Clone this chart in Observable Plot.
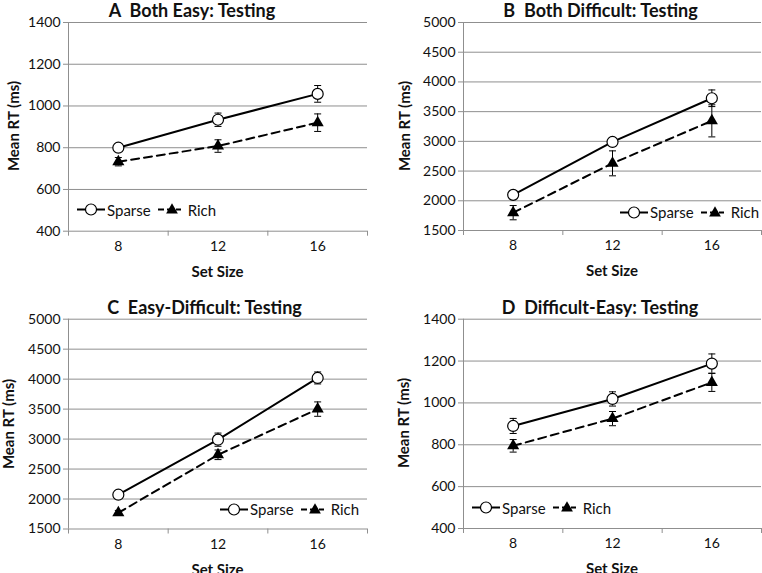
<!DOCTYPE html>
<html><head><meta charset="utf-8">
<script src="https://cdn.jsdelivr.net/npm/d3@7"></script>
<script src="https://cdn.jsdelivr.net/npm/@observablehq/plot@0.6"></script>
<style>
body{margin:0;background:#fff;}
#root{position:relative;width:762px;height:573px;overflow:hidden;font-family:Lato,sans-serif;color:#111;}
.t{position:absolute;white-space:pre;transform:translate(-50%,-50%);line-height:1;}
.title{font-weight:bold;font-size:18px;}
.axt{font-weight:bold;font-size:15px;}
.rot{transform:translate(-50%,-50%) rotate(-90deg);}
.leg{position:absolute;display:flex;align-items:center;font-size:15px;white-space:nowrap;transform:translateY(-50%);line-height:1;}
.leg svg{display:block;}
</style></head><body><div id="root"></div>
<script>
// ---- data ----
const setSizes = [8, 12, 16];
const seriesNames = ["Sparse", "Rich"];
const panelTitles = ["A  Both Easy: Testing", "B  Both Difficult: Testing", "C  Easy-Difficult: Testing", "D  Difficult-Easy: Testing"];
const xLabel = "Set Size";
const yLabel = "Mean RT (ms)";
const yTicksEasy = [400, 600, 800, 1000, 1200, 1400];
const yTicksDiff = [1500, 2000, 2500, 3000, 3500, 4000, 4500, 5000];
const xBoundaries = [6, 10, 14, 18];

const sparseA = [800, 934, 1058];  const sparseErrA = [12, 32, 40];
const richA   = [733, 808, 920];   const richErrA   = [20, 30, 42];
const sparseB = [2100, 2990, 3725]; const sparseErrB = [40, 70, 140];
const richB   = [1800, 2630, 3345]; const richErrB   = [120, 210, 270];
const sparseC = [2072, 2990, 4020]; const sparseErrC = [30, 110, 100];
const richC   = [1770, 2738, 3500]; const richErrC   = [40, 80, 120];
const sparseD = [890, 1019, 1188];  const sparseErrD = [36, 34, 46];
const richD   = [795, 925, 1098];   const richErrD   = [30, 34, 43];

// ---- layout ----
const panels = [
  {title: panelTitles[0], sparse: sparseA, sErr: sparseErrA, rich: richA, rErr: richErrA, ticks: yTicksEasy,
   left: 0, top: 0, width: 381, height: 283, mL: 68, mR: 14, mT: 22, mB: 52.3,
   titleX: 192, titleY: 9.5, yLabX: 13, legX: 77, legY: 209.5},
  {title: panelTitles[1], sparse: sparseB, sErr: sparseErrB, rich: richB, rErr: richErrB, ticks: yTicksDiff,
   left: 381, top: 0, width: 381, height: 283, mL: 82, mR: 1, mT: 22, mB: 53,
   titleX: 600.5, titleY: 9.5, yLabX: 404, legX: 620, legY: 212},
  {title: panelTitles[2], sparse: sparseC, sErr: sparseErrC, rich: richC, rErr: richErrC, ticks: yTicksDiff,
   left: 0, top: 283, width: 381, height: 290, mL: 68, mR: 14, mT: 35.7, mB: 44.5,
   titleX: 204.5, titleY: 306.5, yLabX: 8, legX: 220, legY: 509},
  {title: panelTitles[3], sparse: sparseD, sErr: sparseErrD, rich: richD, rErr: richErrD, ticks: yTicksEasy,
   left: 381, top: 283, width: 381, height: 290, mL: 82, mR: 1, mT: 35.7, mB: 45,
   titleX: 600, titleY: 306.5, yLabX: 403, legX: 472, legY: 507.5}
];

const root = document.getElementById("root");
const cap = {draw(ctx) { ctx.moveTo(-3.5, 0); ctx.lineTo(3.5, 0); }};
const grid = "#8f8f8f";

function addText(cls, txt, x, y) {
  const d = document.createElement("div");
  d.className = "t " + cls;
  d.textContent = txt;
  d.style.left = x + "px"; d.style.top = y + "px";
  root.appendChild(d);
}

function legend(x, y) {
  const d = document.createElement("div");
  d.className = "leg";
  d.style.left = x + "px"; d.style.top = y + "px";
  d.innerHTML =
    `<svg width="28" height="14"><line x1="0" x2="28" y1="7" y2="7" stroke="#000" stroke-width="2"/><circle cx="14" cy="7" r="5.5" fill="#fff" stroke="#000" stroke-width="1.2"/></svg>` +
    `<span style="margin-left:2px">${seriesNames[0]}</span>` +
    `<svg width="23" height="14" style="margin-left:7px"><line x1="0" x2="23" y1="7" y2="7" stroke="#000" stroke-width="2" stroke-dasharray="6,3"/><path transform="translate(14,7.5)" d="${d3.symbol(d3.symbolTriangle, 60)()}" fill="#000"/></svg>` +
    `<span style="margin-left:7px">${seriesNames[1]}</span>`;
  root.appendChild(d);
}

for (const p of panels) {
  const rows = [];
  setSizes.forEach((s, i) => {
    rows.push({x: s, y: p.sparse[i], lo: p.sparse[i] - p.sErr[i], hi: p.sparse[i] + p.sErr[i], series: seriesNames[0]});
    rows.push({x: s, y: p.rich[i], lo: p.rich[i] - p.rErr[i], hi: p.rich[i] + p.rErr[i], series: seriesNames[1]});
  });
  const sp = rows.filter(r => r.series === seriesNames[0]);
  const ri = rows.filter(r => r.series === seriesNames[1]);
  const yMin = p.ticks[0], yMax = p.ticks[p.ticks.length - 1];
  const chart = Plot.plot({
    width: p.width, height: p.height,
    marginLeft: p.mL, marginRight: p.mR, marginTop: p.mT, marginBottom: p.mB,
    style: {fontFamily: "Lato, sans-serif", fontSize: "14px", color: "#111", background: "transparent", overflow: "visible"},
    x: {domain: [6, 18]},
    y: {domain: [yMin, yMax]},
    marks: [
      Plot.gridY(p.ticks, {stroke: grid, strokeOpacity: 1}),
      Plot.ruleX([6], {stroke: grid}),
      Plot.axisY(p.ticks, {tickSize: 5, tickPadding: 3, stroke: grid, fill: "#111", label: null, tickFormat: d => String(d)}),
      Plot.axisX(setSizes, {tickSize: 0, tickPadding: 10, fill: "#111", label: null, tickFormat: d => String(d)}),
      Plot.axisX(xBoundaries, {tickSize: 5, tickFormat: () => "", stroke: grid, label: null}),
      Plot.ruleX(rows, {x: "x", y1: "lo", y2: "hi", stroke: "#000", strokeWidth: 1}),
      Plot.dot(rows, {x: "x", y: "hi", symbol: cap, fill: "none", stroke: "#000", strokeWidth: 1}),
      Plot.dot(rows, {x: "x", y: "lo", symbol: cap, fill: "none", stroke: "#000", strokeWidth: 1}),
      Plot.line(sp, {x: "x", y: "y", stroke: "#000", strokeWidth: 2}),
      Plot.line(ri, {x: "x", y: "y", stroke: "#000", strokeWidth: 2, strokeDasharray: "8,5"}),
      Plot.dot(sp, {x: "x", y: "y", r: 5.5, fill: "#fff", stroke: "#000", strokeWidth: 1.2}),
      Plot.dot(ri, {x: "x", y: "y", r: 4.5, symbol: "triangle", fill: "#000", stroke: "none"})
    ]
  });
  chart.style.position = "absolute";
  chart.style.left = p.left + "px";
  chart.style.top = p.top + "px";
  root.appendChild(chart);

  const plotCx = p.left + p.mL + (p.width - p.mL - p.mR) / 2;
  const plotCy = p.top + p.mT + (p.height - p.mT - p.mB) / 2;
  addText("title", p.title, p.titleX, p.titleY);
  addText("axt rot", yLabel, p.yLabX, plotCy);
  addText("axt", xLabel, plotCx, p.top + p.height - p.mB + 40);
  legend(p.legX, p.legY);
}
</script></body></html>
